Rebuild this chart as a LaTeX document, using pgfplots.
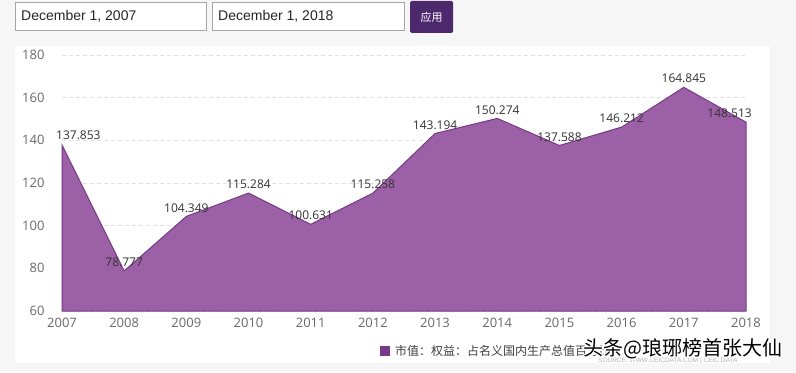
\documentclass[border=0pt]{standalone}
\usepackage{pgfplots}
\usepackage{pgfplotstable}
\pgfplotsset{compat=1.18}
\usepackage{fontspec}
\setmainfont{Open Sans}
\newfontfamily\arial{Liberation Sans}
\newfontfamily\cjk{Noto Sans CJK SC}
\definecolor{bg}{RGB}{246,246,246}
\definecolor{areafill}{RGB}{155,96,165}
\definecolor{arealine}{RGB}{118,58,134}
\definecolor{btn}{RGB}{78,40,108}
\definecolor{ticktext}{RGB}{105,105,105}
\definecolor{labtext}{RGB}{50,50,50}
\definecolor{gridc}{RGB}{225,225,225}
\pgfplotstableread{
x y lab
2007 137.853 137.853
2008 78.777 78.777
2009 104.349 104.349
2010 115.284 115.284
2011 100.631 100.631
2012 115.258 115.258
2013 143.194 143.194
2014 150.274 150.274
2015 137.588 137.588
2016 146.212 146.212
2017 164.845 164.845
2018 148.513 148.513
}\datatab
\pgfplotstableread{
x y lab
2008 78.777 78.777
2009 104.349 104.349
2010 115.284 115.284
2011 100.631 100.631
2012 115.258 115.258
2013 143.194 143.194
2014 150.274 150.274
2015 137.588 137.588
2016 146.212 146.212
2017 164.845 164.845
}\midtab
\pgfplotstableread{
x y lab
2007 137.853 137.853
}\firsttab
\pgfplotstableread{
x y lab
2018 148.513 148.513
}\lasttab
\begin{document}
\begin{tikzpicture}
\begin{scope}[x=1bp,y=1bp]
% background
\fill[bg] (0,0) rectangle (796,372);
\fill[white] (15,9) rectangle (770,326);
% input boxes
\draw[gray!70, line width=0.8bp, fill=white] (15,342) rectangle (206,370);
\draw[gray!70, line width=0.8bp, fill=white] (212,342) rectangle (404,370);
\fill[btn, rounded corners=1.5bp] (410,339) rectangle (453,371);
\node[anchor=west, inner sep=0, font=\arial\fontsize{14bp}{16bp}\selectfont, text=black!85] at (21,356) {December 1, 2007};
\node[anchor=west, inner sep=0, font=\arial\fontsize{14bp}{16bp}\selectfont, text=black!85] at (218,356) {December 1, 2018};
\node[inner sep=0, font=\cjk\fontsize{11bp}{13bp}\selectfont, text=white] at (431.5,355) {应用};
\end{scope}
\begin{axis}[
  at={(62bp,61bp)}, anchor=south west,
  scale only axis, width=684bp, height=256bp,
  xmin=2007, xmax=2018, ymin=60, ymax=180,
  axis line style={draw=none},
  major tick style={draw=none},
  xtick={2007,...,2018}, ytick={60,80,...,180},
  ymajorgrids, grid style={gridc, dash pattern=on 4bp off 3bp, line width=0.7bp},
  /pgf/number format/assume math mode=true,
  xticklabel style={/pgf/number format/1000 sep=, font=\fontsize{13bp}{15bp}\selectfont, text=ticktext, yshift=-4bp},
  yticklabel style={font=\fontsize{13bp}{15bp}\selectfont, text=ticktext, xshift=-14bp},
  clip=false,
]
\addplot[fill=areafill, draw=arealine, line width=1bp] table[x=x,y=y] {\datatab} \closedcycle;
\addplot[draw=none, nodes near coords, point meta=explicit symbolic,
  every node near coord/.append style={font=\fontsize{12bp}{14bp}\selectfont, text=labtext, anchor=south, inner sep=2bp, yshift=2bp}]
  table[x=x,y=y,meta=lab] {\midtab};
\addplot[draw=none, nodes near coords, point meta=explicit symbolic,
  every node near coord/.append style={font=\fontsize{12bp}{14bp}\selectfont, text=labtext, anchor=south west, xshift=-8bp, inner sep=2bp, yshift=3bp}]
  table[x=x,y=y,meta=lab] {\firsttab};
\addplot[draw=none, nodes near coords, point meta=explicit symbolic,
  every node near coord/.append style={font=\fontsize{12bp}{14bp}\selectfont, text=labtext, anchor=south east, xshift=8bp, inner sep=2bp, yshift=2bp}]
  table[x=x,y=y,meta=lab] {\lasttab};
\end{axis}
\begin{scope}[x=1bp,y=1bp]
% legend
\fill[arealine] (380,16) rectangle (390,26);
\node[anchor=west, inner sep=0, font=\cjk\fontsize{12bp}{14bp}\selectfont, text=black!75] at (395,21) {市值：权益：占名义国内生产总值百分比};
\node[anchor=west, inner sep=0, font=\arial\fontsize{6.5bp}{8bp}\selectfont, text=black!30] at (598,11) {SOURCE: WWW.CEICDATA.COM | CEIC DATA};
% watermark with halo
\foreach \dx/\dy in {-1/0,1/0,0/-1,0/1,-1/-1,1/1,-1/1,1/-1,-1.5/0,1.5/0,0/1.5,0/-1.5}{
  \node[anchor=west, inner sep=0, font=\cjk\fontsize{20bp}{22bp}\selectfont, text=white] at (583+\dx,23+\dy) {头条@琅琊榜首张大仙};
}
\node[anchor=west, inner sep=0, font=\cjk\fontsize{20bp}{22bp}\selectfont, text=black] at (583,23) {头条@琅琊榜首张大仙};
\end{scope}
\end{tikzpicture}
\end{document}
